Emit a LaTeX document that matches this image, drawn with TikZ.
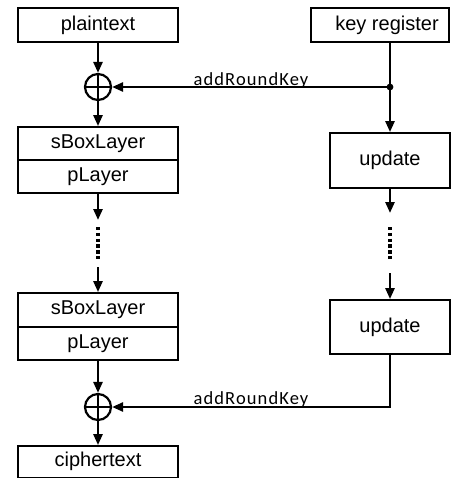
\documentclass[tikz,border=0pt]{standalone}
\usepackage{fontspec}
\setmainfont{Liberation Sans}
\newfontfamily\labelfont[LetterSpace=6]{Carlito}
\usetikzlibrary{arrows.meta}
\begin{document}
\begin{tikzpicture}[x=1pt,y=-1pt,
  box/.style={draw, line width=1.8pt, inner sep=0pt, font=\fontsize{20}{24}\selectfont},
  xorop/.style={circle, draw, line width=2.2pt, minimum size=26pt, inner sep=0pt},
  conn/.style={line width=2.5pt},
  arr/.style={conn, -{Triangle[length=11pt,width=9pt]}},
  dots/.style={line width=3.6pt, dash pattern=on 3.4pt off 2.4pt},
  keylabel/.style={font=\labelfont\fontsize{18.5}{22}\selectfont, anchor=base, inner sep=0pt}]
\useasboundingbox (0,0) rectangle (469,479);

% data path
\node[box, minimum width=160pt, minimum height=34pt] (pt) at (98,25) {plaintext};
\node[xorop] (x1) at (98,87) {};
\node[box, minimum width=160pt, minimum height=33pt] (sb1) at (98,143.5) {sBoxLayer};
\node[box, minimum width=160pt, minimum height=33pt] (pl1) at (98,176.5) {pLayer};
\node[box, minimum width=160pt, minimum height=34pt] (sb2) at (98,310) {sBoxLayer};
\node[box, minimum width=160pt, minimum height=33pt] (pl2) at (98,343.5) {pLayer};
\node[xorop] (x2) at (98,407) {};
\node[box, minimum width=160pt, minimum height=31.5pt] (ct) at (98,461.75) {ciphertext};

% key schedule
\node[box, minimum width=138pt, minimum height=34pt] (kr) at (380,25) {\hspace*{14pt}key register};
\node[box, minimum width=120pt, minimum height=55pt] (u1) at (390,160.5) {update};
\node[box, minimum width=120pt, minimum height=54pt] (u2) at (390,327) {update};

% crosses inside the XOR circles
\foreach \x in {x1,x2}
  \draw[line width=2pt] (\x.north) -- (\x.south) (\x.west) -- (\x.east);

% junction and elision points
\coordinate (j) at (390,87);
\coordinate (a1) at (98,220);
\coordinate (d1) at (98,227);
\coordinate (d2) at (98,259);
\coordinate (a2) at (98,267);
\coordinate (b1) at (390,213);
\coordinate (e1) at (390,227);
\coordinate (e2) at (390,259);
\coordinate (b2) at (390,273);

% connectors
\draw[arr] (pt) -- (x1);
\draw[arr] (x1) -- (sb1);
\draw[arr] (pl1) -- (a1);
\draw[dots] (d1) -- (d2);
\draw[arr] (a2) -- (sb2);
\draw[arr] (pl2) -- (x2);
\draw[arr] (x2) -- (ct);

\draw[conn] (j |- kr.south) -- (j);
\fill (j) circle (3.4pt);
\draw[arr] (j) -- (x1);
\draw[arr] (j) -- (u1);
\draw[arr] (u1) -- (b1);
\draw[dots] (e1) -- (e2);
\draw[arr] (b2) -- (u2);
\draw[arr] (u2) |- (x2);

% labels
\node[keylabel] (l1) at (251,85) {addRoundKey};
\node[keylabel] (l2) at (251,404) {addRoundKey};
\end{tikzpicture}
\end{document}
